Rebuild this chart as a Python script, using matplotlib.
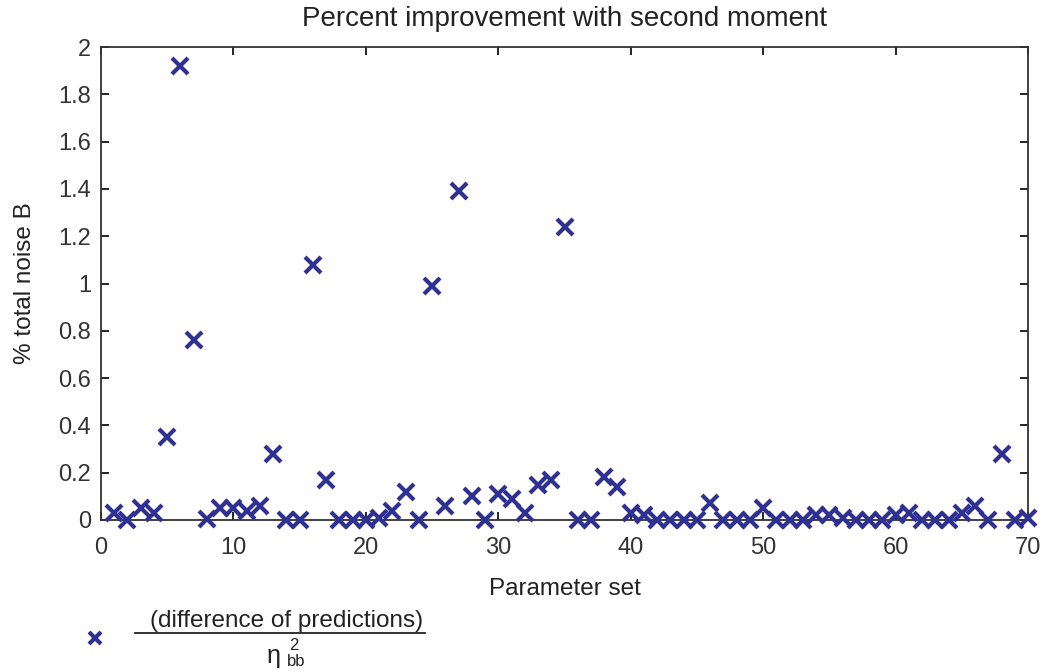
import matplotlib
matplotlib.use("Agg")
import matplotlib.pyplot as plt
from matplotlib.lines import Line2D

plt.rcParams['font.family'] = ['Liberation Sans', 'DejaVu Sans']

# parameter set index and percent improvement
param_set = list(range(1, 71))
improvement = [
    0.03, 0.00, 0.05, 0.03, 0.35, 1.92, 0.76, 0.005, 0.05, 0.05,
    0.04, 0.06, 0.28, 0.00, 0.00, 1.08, 0.17, 0.00, 0.00, 0.00,
    0.01, 0.04, 0.12, 0.00, 0.99, 0.06, 1.39, 0.10, 0.00, 0.11,
    0.09, 0.03, 0.15, 0.17, 1.24, 0.00, 0.00, 0.18, 0.14, 0.03,
    0.02, 0.00, 0.00, 0.00, 0.00, 0.07, 0.00, 0.00, 0.00, 0.05,
    0.00, 0.00, 0.00, 0.02, 0.02, 0.01, 0.00, 0.00, 0.00, 0.02,
    0.03, 0.00, 0.00, 0.00, 0.03, 0.06, 0.00, 0.28, 0.00, 0.01,
]
xticks = [0, 10, 20, 30, 40, 50, 60, 70]
yticks = [0, 0.2, 0.4, 0.6, 0.8, 1, 1.2, 1.4, 1.6, 1.8, 2]
ytick_labels = ['0', '0.2', '0.4', '0.6', '0.8', '1', '1.2', '1.4', '1.6', '1.8', '2']

mark_color = '#2e3192'
text_color = '#222222'
W, H = 1048, 672

fig = plt.figure(figsize=(W / 100, H / 100), dpi=100)
ax = fig.add_axes([101 / W, 1 - 520 / H, (1028 - 101) / W, (520 - 47) / H])

ax.plot(param_set, improvement, linestyle='none', marker='x', color=mark_color,
        markersize=12, markeredgewidth=3, clip_on=False, zorder=3)

ax.set_xlim(0, 70)
ax.set_ylim(0, 2)
ax.set_xticks(xticks)
ax.set_xticklabels([str(t) for t in xticks])
ax.set_yticks(yticks)
ax.set_yticklabels(ytick_labels)
ax.tick_params(direction='in', length=6, width=1.2, labelsize=17, top=True, right=True,
               labelcolor='#333333')
ax.tick_params(axis='x', pad=12)
ax.tick_params(axis='y', pad=7)
for spine in ax.spines.values():
    spine.set_linewidth(1.3)
    spine.set_color('#333333')

ax.set_title('Percent improvement with second moment', fontsize=20, pad=15, color=text_color)
ax.set_xlabel('Parameter set', fontsize=17.5, labelpad=14, color=text_color)
ax.set_ylabel('% total noise B', fontsize=17.5, labelpad=16, color=text_color)

# legend below the axes: marker plus a fraction label
fig.add_artist(Line2D([95 / W], [1 - 638 / H], transform=fig.transFigure,
                      marker='x', color=mark_color, markersize=9, markeredgewidth=3))
fig.text(287 / W, 1 - 621 / H, '(difference of predictions)', ha='center', va='center',
         fontsize=17.5, color=text_color)
fig.add_artist(Line2D([135 / W, 425 / W], [1 - 633 / H, 1 - 633 / H],
                      transform=fig.transFigure, color=text_color, linewidth=1.3))
fig.text(281 / W, 1 - 656 / H, 'η', ha='right', va='center', fontsize=18, color=text_color)
fig.text(289 / W, 1 - 646 / H, '2', ha='left', va='center', fontsize=12, color=text_color)
fig.text(287 / W, 1 - 662 / H, 'bb', ha='left', va='center', fontsize=12, color=text_color)

fig.savefig('out.png', dpi=100)
